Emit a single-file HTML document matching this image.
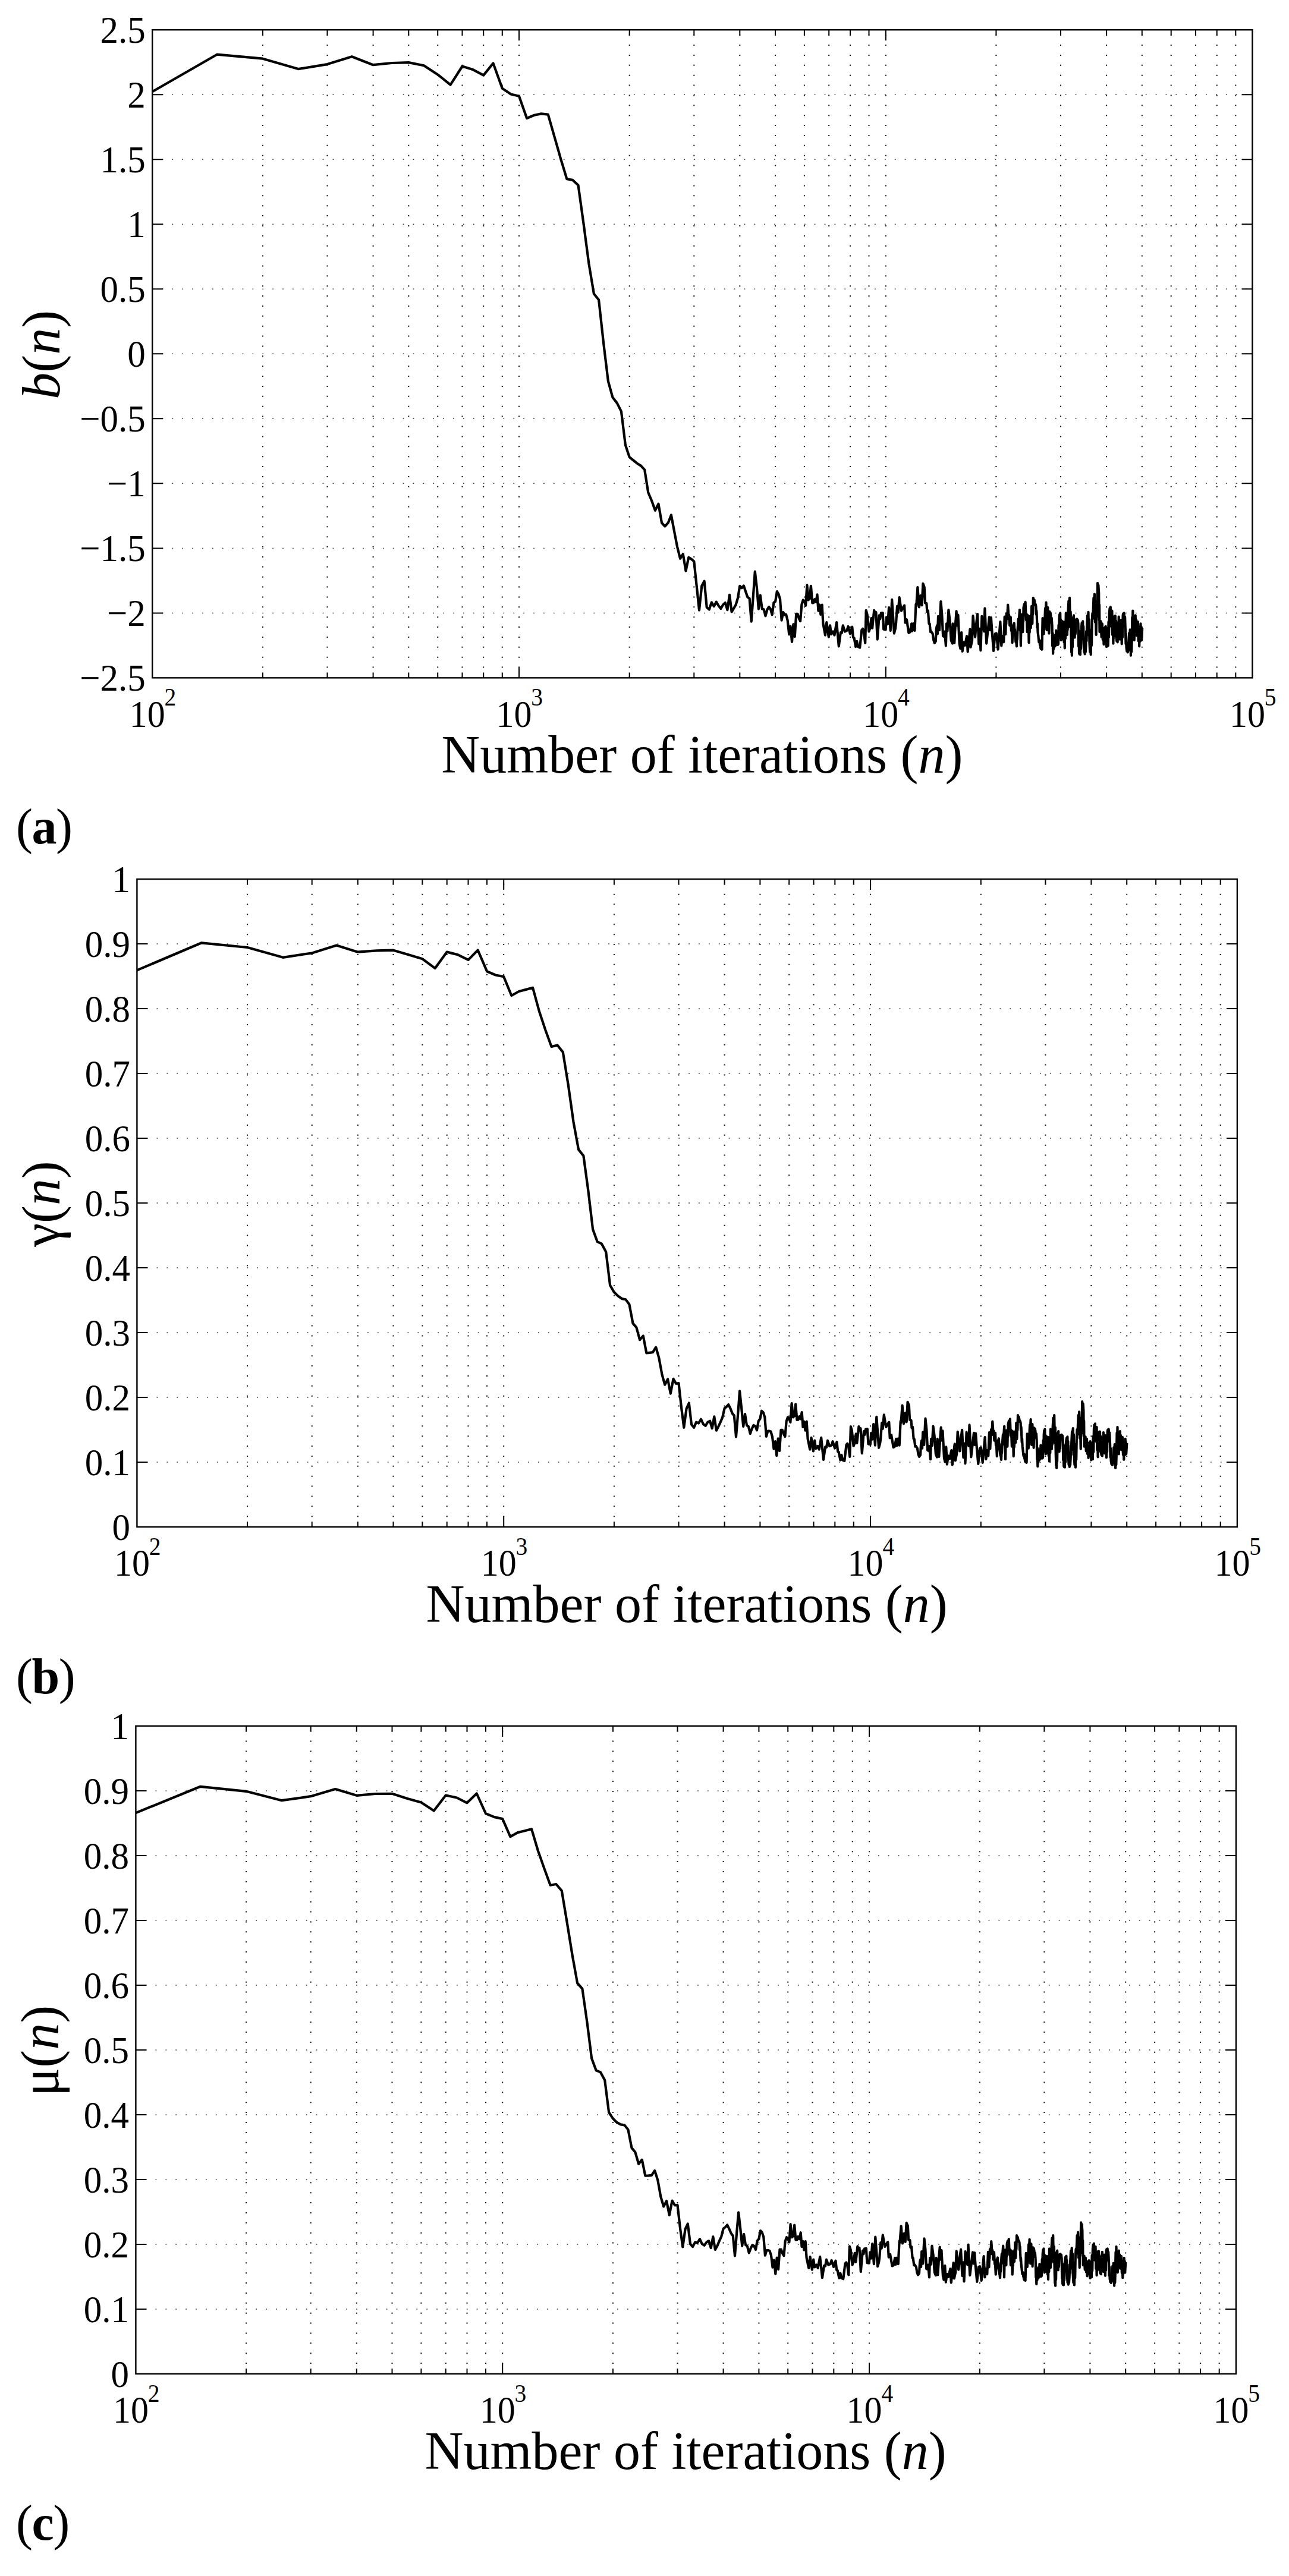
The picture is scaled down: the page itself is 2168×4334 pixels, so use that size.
<!DOCTYPE html>
<html><head><meta charset="utf-8"><title>Figure</title>
<style>html,body{margin:0;padding:0;background:#fff}svg{display:block}text{font-family:'Liberation Serif','Times New Roman',serif;fill:#000}</style></head><body>
<svg width="2168" height="4334" viewBox="0 0 2168 4334">
<rect width="2168" height="4334" fill="#fff"/>
<g>
<path d="M255.7 159.2H2106.5M255.7 268.2H2106.5M255.7 377.3H2106.5M255.7 486.3H2106.5M255.7 595.3H2106.5M255.7 704.3H2106.5M255.7 813.3H2106.5M255.7 922.4H2106.5M255.7 1031.4H2106.5" stroke="#333" stroke-width="1.5" stroke-dasharray="1.7 15.18" fill="none"/>
<path d="M441.9 1140.5V50.2M550.5 1140.5V50.2M627.6 1140.5V50.2M687.3 1140.5V50.2M736.2 1140.5V50.2M777.5 1140.5V50.2M813.2 1140.5V50.2M844.8 1140.5V50.2M873 1140.5V50.2M1058.7 1140.5V50.2M1167.3 1140.5V50.2M1244.3 1140.5V50.2M1304.1 1140.5V50.2M1352.9 1140.5V50.2M1394.2 1140.5V50.2M1430 1140.5V50.2M1461.5 1140.5V50.2M1489.8 1140.5V50.2M1675.4 1140.5V50.2M1784 1140.5V50.2M1861.1 1140.5V50.2M1920.8 1140.5V50.2M1969.7 1140.5V50.2M2011 1140.5V50.2M2046.7 1140.5V50.2M2078.3 1140.5V50.2" stroke="#111" stroke-width="2" stroke-dasharray="2 14.88" fill="none"/>
<path d="M441.9 50.2v9M441.9 1140.4v-9M550.5 50.2v9M550.5 1140.4v-9M627.6 50.2v9M627.6 1140.4v-9M687.3 50.2v9M687.3 1140.4v-9M736.2 50.2v9M736.2 1140.4v-9M777.5 50.2v9M777.5 1140.4v-9M813.2 50.2v9M813.2 1140.4v-9M844.8 50.2v9M844.8 1140.4v-9M873 50.2v18M873 1140.4v-18M1058.7 50.2v9M1058.7 1140.4v-9M1167.3 50.2v9M1167.3 1140.4v-9M1244.3 50.2v9M1244.3 1140.4v-9M1304.1 50.2v9M1304.1 1140.4v-9M1352.9 50.2v9M1352.9 1140.4v-9M1394.2 50.2v9M1394.2 1140.4v-9M1430 50.2v9M1430 1140.4v-9M1461.5 50.2v9M1461.5 1140.4v-9M1489.8 50.2v18M1489.8 1140.4v-18M1675.4 50.2v9M1675.4 1140.4v-9M1784 50.2v9M1784 1140.4v-9M1861.1 50.2v9M1861.1 1140.4v-9M1920.8 50.2v9M1920.8 1140.4v-9M1969.7 50.2v9M1969.7 1140.4v-9M2011 50.2v9M2011 1140.4v-9M2046.7 50.2v9M2046.7 1140.4v-9M2078.3 50.2v9M2078.3 1140.4v-9M256.2 159.2h18M2106.5 159.2h-18M256.2 268.2h18M2106.5 268.2h-18M256.2 377.3h18M2106.5 377.3h-18M256.2 486.3h18M2106.5 486.3h-18M256.2 595.3h18M2106.5 595.3h-18M256.2 704.3h18M2106.5 704.3h-18M256.2 813.3h18M2106.5 813.3h-18M256.2 922.4h18M2106.5 922.4h-18M256.2 1031.4h18M2106.5 1031.4h-18" stroke="#000" stroke-width="2" fill="none"/>
<rect x="256.2" y="50.2" width="1850.2" height="1090.2" fill="none" stroke="#000" stroke-width="2.4"/>
<path d="M256.2 154.2 364.9 91.7 441.9 98.7 501.7 116.1 550.5 108.1 591.8 95.2 627.6 109.2 659.1 106 687.3 105.1 712.9 110.3 736.2 125.4 757.6 142.7 777.5 111.5 795.9 117.3 813.2 126.6 829.5 106.4 844.8 148.7 859.3 158.5 873 161.7 886.1 199 898.5 193.8 910.4 191.4 921.8 192.7 932.8 231 943.3 267.8 953.4 301.1 963.1 302.9 972.5 311.5 981.6 376.9 990.4 443.5 998.9 494.3 1007.1 504.5 1015.1 577.2 1022.9 641.4 1030.4 668.5 1037.8 678.1 1044.9 692.1 1051.9 748.7 1058.7 769.2 1065.3 774.5 1071.7 779.7 1078 783.6 1084.2 790.4 1090.2 828.5 1096.1 842.5 1101.9 858.8 1107.5 847.8 1113 879.7 1118.4 885.5 1123.7 879.7 1128.9 866.5 1134 893.7 1139 919.5 1144 939.8 1148.8 932 1153.5 960.6 1158.2 937.9 1162.8 940.6 1167.3 944.5 1171.7 985.8 1176 1026.6 1180.3 985.8 1184.6 977.7 1188.7 1021.7 1192.8 1025.6 1196.8 1013.4 1200.8 1020.2 1204.7 1012.6 1208.6 1019.2 1212.4 1024 1216.1 1017.5 1219.8 1014 1223.4 1026.2 1227 1000.8 1230.6 1029.5 1234.1 1023.7 1237.5 1017.8 1241 1006.2 1244.3 985.8 1247.6 989.3 1250.9 985.5 1254.2 995.5 1257.4 1004.7 1260.6 1006.8 1263.7 1045.6 1266.8 1003.3 1269.8 961.6 1272.9 988.7 1275.9 1024.6 1278.8 1001.7 1281.8 1024.6 1284.7 1025.2 1287.5 1036.3 1290.4 1025.6 1293.2 1021.1 1295.9 1024.6 1298.7 1034.3 1301.4 1014 1304.1 1012 1306.8 995 1309.4 999.4 1312 1007.8 1314.6 1043.6 1317.2 1030.1 1319.7 1034.3 1322.2 1033.9 1324.7 1044 1327.2 1067.3 1329.6 1053.7 1332 1079.9 1334.4 1050.4 1336.8 1071.2 1339.2 1032.8 1341.5 1032.8 1343.8 1040.5 1346.1 1045 1348.4 1016.9 1350.7 1009.5 1352.9 1012 1355.1 1018.8 1357.4 984.3 1359.5 1009.5 1361.7 1007.2 1363.9 985.8 1366.3 1014.4 1368.3 1014.1 1370.2 1008.2 1372.5 1012.8 1374.5 1000.4 1376.4 1027.6 1378.4 1017.5 1380.3 1033.8 1382.6 1017.5 1384.4 1049.3 1388 1068.7 1390.3 1047 1393.8 1071.8 1396.1 1052.4 1398.1 1067.1 1401.2 1062.5 1403.5 1068.7 1407.1 1047 1410.8 1087.3 1413.9 1064 1415.9 1064.8 1417.8 1052.4 1421.1 1062.5 1424.5 1060.9 1426.5 1053.9 1429.9 1066.3 1433.3 1054.7 1435 1072.6 1436.6 1073.3 1439.2 1088.1 1441.2 1078.8 1443.1 1088.1 1446.2 1089.6 1449.3 1060.1 1451.2 1057.8 1452.7 1061.7 1455.2 1081.9 1456.7 1026.8 1458.6 1033.8 1461.4 1062.5 1463.3 1057 1465.6 1040 1467.1 1057 1470.2 1026.8 1471.8 1032.2 1473.4 1029.9 1475.7 1075.7 1478.8 1035.3 1480.3 1041.5 1481.9 1031.4 1484.7 1031 1486.2 1058.6 1489.6 1059.4 1491.2 1038.4 1493.1 1050.1 1495.1 1022.1 1497.7 1060.9 1500.2 1008.9 1503.9 1065.6 1505.9 1057.8 1507 1049.3 1509 1019.8 1510.6 1030.7 1512.6 1005.1 1516 1027.6 1518.3 1022.9 1521.1 1018.6 1522.5 1047.7 1525 1042.3 1528.4 1064.8 1530.8 1063.2 1533.1 1049.3 1534.3 1061.7 1536.2 1049 1538.5 1060.9 1540.5 1016.7 1541.2 1019.8 1543.4 988 1545.9 1021.4 1548.5 1002 1550.6 1018.3 1552.4 981.8 1554.7 988 1556 1014.4 1558.3 1015.1 1559.4 1029.1 1560.9 1027.6 1562.5 1049.3 1563.6 1049.3 1565.1 1063.2 1566.4 1062.5 1568.7 1066.3 1570.3 1077.2 1571.8 1081.9 1573.8 1078.8 1574.9 1057 1576 1052.4 1576.9 1066.3 1578 1036.9 1580 1060.1 1582.4 1012 1584.2 1032.2 1586.1 1070.2 1587.8 1071 1588.9 1062.5 1590.9 1086.5 1592 1049.3 1593.5 1061.7 1595.4 1026 1597.4 1043.1 1599.7 1077.2 1601.8 1082.6 1602.5 1049.3 1605.2 1081.9 1607 1049.3 1608.6 1028.3 1609.8 1052.4 1611.4 1034.5 1613.7 1083.4 1615.3 1091.2 1617.1 1064 1618.7 1095.8 1620.7 1080.3 1623 1085.7 1626.1 1070.2 1627.7 1096.6 1630 1073.3 1631.5 1058.6 1632.6 1088.8 1635 1077.2 1636.5 1036.1 1640.1 1071.8 1642.1 1049.3 1644 1033 1646.3 1083.4 1647.8 1057.8 1649.4 1094.3 1651.4 1036.9 1655.1 1062.5 1656.4 1023.7 1659.2 1082.6 1661.8 1058.6 1663.8 1038.4 1665.4 1060.1 1666.9 1039.2 1668.8 1066.3 1671.1 1095.1 1673.7 1066.3 1675.8 1065.6 1678.6 1092.7 1680.4 1070.2 1682.4 1046.2 1684.3 1086.5 1685.8 1070.2 1688.2 1080.3 1689.7 1037.6 1691.3 1067.1 1691.8 1049.5 1692.3 1049.8 1692.8 1032.2 1693.3 1036.9 1693.6 1036.8 1694.1 1041.5 1695.2 1017.5 1696.3 1035.4 1697.1 1034.4 1698.3 1052.4 1698.8 1045.1 1699.3 1045.7 1699.8 1038.4 1700.8 1060.9 1701.6 1058.6 1702.6 1081.1 1703.1 1067.4 1703.5 1069.2 1704 1055.5 1704.6 1051.7 1705.1 1052.3 1705.7 1048.5 1706.4 1060.7 1706.9 1058.8 1707.6 1071 1708.4 1080 1709.1 1078.3 1709.9 1087.3 1710.5 1072.6 1710.9 1075.6 1711.5 1060.9 1712.7 1041.4 1713.7 1045.6 1715 1026 1715.7 1060.5 1716.2 1052 1716.9 1086.5 1717.4 1056.2 1717.9 1064.1 1718.4 1033.8 1719.1 1050.9 1719.6 1046.2 1720.3 1063.2 1720.7 1039.2 1721.1 1046.2 1721.5 1022.1 1722.7 1016.7 1723.5 1018.3 1724.6 1012.8 1725.8 1042.9 1726.6 1033.1 1727.7 1063.2 1728.2 1046.3 1728.5 1052.2 1729 1035.3 1729.5 1063.2 1730 1053.2 1730.5 1081.1 1731.2 1054 1731.7 1064 1732.4 1036.9 1733 1048.9 1733.4 1044.3 1733.9 1056.3 1734.4 1033.5 1734.7 1042.5 1735.2 1019.8 1736.3 1049.3 1736.8 1021.9 1737.3 1033.2 1737.8 1005.8 1738.8 1011.7 1739.6 1009.2 1740.6 1015.1 1741.2 1018.1 1741.7 1016.8 1742.4 1019.8 1743 1033.9 1743.4 1027.5 1744 1041.5 1744.5 1055.7 1745 1049.1 1745.5 1063.2 1746.3 1069.5 1747.4 1080.3 1747.8 1078.3 1748.2 1079.3 1748.6 1077.2 1749.1 1085.5 1749.4 1081.4 1749.9 1089.6 1750.8 1091.7 1751.5 1090.7 1752.5 1092.7 1753.6 1040 1754.3 1057.9 1754.9 1048.5 1755.6 1066.3 1756.2 1051.5 1756.6 1059.5 1757.2 1044.6 1758 1023.3 1758.6 1034.9 1759.5 1013.6 1760 1045.9 1760.5 1027.8 1761 1060.1 1761.5 1033.6 1761.8 1048.7 1762.3 1022.1 1763.1 1052.6 1763.7 1035.1 1764.4 1065.6 1765.4 1029.1 1766 1033 1766.6 1030.7 1767.2 1034.5 1768.1 1047.3 1768.7 1039.6 1769.6 1052.4 1770.1 1086.6 1770.6 1065.5 1771.1 1099.7 1771.8 1077.7 1772.4 1091.5 1773.1 1069.5 1773.7 1082.5 1774.1 1074.2 1774.7 1087.3 1775.2 1067.9 1775.7 1080.4 1776.2 1060.9 1776.9 1078.8 1777.4 1067.1 1778.1 1085 1778.8 1083.8 1779.3 1084.6 1780 1083.4 1780.5 1051.9 1781 1073 1781.5 1041.5 1782.1 1033.9 1782.6 1039.1 1783.2 1031.4 1783.7 1066.3 1784.1 1042.4 1784.6 1077.2 1785.1 1052.3 1785.4 1069.6 1785.9 1044.6 1786.5 1068.5 1787 1051.8 1787.7 1075.7 1788.2 1052.9 1788.5 1069 1789 1046.2 1789.6 1080.5 1790.2 1056 1790.8 1090.4 1791.5 1047.9 1792.1 1073.9 1792.8 1031.4 1793.6 1059.9 1794.1 1039.5 1794.9 1067.9 1795.4 1037.6 1795.8 1059.4 1796.4 1029.1 1797.4 1011 1798.1 1024 1799 1005.8 1800 1055.3 1800.7 1029.3 1801.7 1078.8 1802.1 1097.5 1802.5 1084.1 1802.9 1102.8 1803.5 1063 1803.9 1089 1804.5 1049.3 1805 1038.4 1805.5 1046.2 1806 1035.3 1806.6 1064.4 1807 1043.5 1807.6 1072.6 1808.2 1050.8 1808.8 1066.4 1809.4 1044.6 1810.2 1042.2 1810.7 1043.9 1811.5 1041.5 1812.2 1047.6 1812.7 1043.2 1813.5 1049.3 1814 1087.1 1814.5 1061.1 1815 1098.9 1815.7 1100.7 1816.2 1099.4 1816.9 1101.3 1817.6 1066.8 1818.1 1091.5 1818.8 1057 1819.6 1048 1820.3 1054.5 1821.2 1045.4 1821.8 1075.1 1822.2 1053.8 1822.8 1083.4 1823.5 1096.7 1824 1087.2 1824.6 1100.5 1825.3 1088.4 1825.8 1097.1 1826.5 1085 1827.1 1062 1827.5 1078.5 1828.1 1055.5 1829 1035.5 1829.6 1049.9 1830.5 1029.9 1831.2 1068.1 1831.7 1042.1 1832.4 1080.3 1833.2 1096.7 1833.9 1084.9 1834.7 1101.3 1835.5 1059.9 1836 1085.9 1836.7 1044.6 1837.4 1031.9 1837.9 1041 1838.6 1028.3 1839.4 1005.9 1840.1 1022 1840.9 999.6 1841.9 1046.8 1842.6 1020.8 1843.6 1067.9 1844.5 1011.5 1845.2 1037.5 1846.1 981 1846.8 993.7 1847.4 984.6 1848.2 997.3 1848.7 1043.3 1849 1017.3 1849.5 1063.2 1850.2 1049.3 1850.8 1059.3 1851.5 1045.4 1852.6 1071.8 1853 1054.2 1853.4 1066.8 1853.8 1049.3 1854.8 1076.5 1855.5 1057 1856.5 1084.2 1857 1065.4 1857.4 1078.9 1858 1060.1 1858.6 1055.3 1859 1058.8 1859.6 1053.9 1860.1 1080.6 1860.6 1061.4 1861.1 1088.1 1862.2 1057 1862.8 1080 1863.2 1063.5 1863.7 1086.5 1864.5 1046 1865 1072 1865.8 1031.4 1866.5 1023.6 1867.1 1029.2 1867.8 1021.4 1868.3 1046.8 1868.8 1028.5 1869.3 1053.9 1870.4 1027.6 1871.1 1068.1 1871.7 1042.1 1872.4 1082.6 1873 1048.1 1873.4 1072.9 1874 1038.4 1874.7 1036.6 1875.2 1037.9 1875.8 1036.1 1876.5 1065.7 1877 1044.5 1877.7 1074.1 1878.4 1078.9 1879 1075.5 1879.7 1080.3 1880.5 1047 1881 1070.9 1881.7 1037.6 1882.4 1067.3 1882.9 1046 1883.6 1075.7 1884.2 1050.2 1884.6 1068.5 1885.2 1043.1 1885.7 1074.5 1886.2 1052 1886.7 1083.4 1887.4 1046.4 1887.9 1072.4 1888.6 1035.3 1889.3 1032.3 1889.9 1034.5 1890.6 1031.4 1891.4 1053.8 1892.1 1037.8 1892.9 1060.1 1893.5 1083.1 1893.9 1066.6 1894.5 1089.6 1895.3 1095.7 1896 1091.3 1896.8 1097.4 1897.4 1087.7 1897.8 1094.7 1898.3 1085 1899.2 1065 1899.8 1079.3 1900.7 1059.4 1901.1 1093.3 1901.5 1068.9 1901.9 1102.8 1902.6 1081.6 1903.1 1096.8 1903.8 1075.7 1904.3 1038.6 1904.8 1064.6 1905.3 1027.6 1906.2 1065.4 1906.8 1039.4 1907.7 1077.2 1908.4 1044.5 1908.9 1068 1909.7 1035.3 1910.5 1061.9 1911.1 1042.8 1911.8 1069.5 1912.6 1051.3 1913.1 1064.3 1913.9 1046.2 1914.7 1078.3 1915.4 1055.2 1916.2 1087.3 1917 1057.6 1917.7 1078.9 1918.5 1049.3 1919.1 1071.1 1919.5 1055.4 1920.1 1077.2 1921.2 1057" fill="none" stroke="#000" stroke-width="4.2" stroke-linejoin="round" stroke-linecap="butt"/>
<text transform="translate(244.8 72.2) scale(1 1.04)" font-size="61" text-anchor="end">2.5</text>
<text transform="translate(244.8 181.2) scale(1 1.04)" font-size="61" text-anchor="end">2</text>
<text transform="translate(244.8 290.2) scale(1 1.04)" font-size="61" text-anchor="end">1.5</text>
<text transform="translate(244.8 399.3) scale(1 1.04)" font-size="61" text-anchor="end">1</text>
<text transform="translate(244.8 508.3) scale(1 1.04)" font-size="61" text-anchor="end">0.5</text>
<text transform="translate(244.8 617.3) scale(1 1.04)" font-size="61" text-anchor="end">0</text>
<text transform="translate(244.8 726.3) scale(1 1.04)" font-size="61" text-anchor="end">−0.5</text>
<text transform="translate(244.8 835.3) scale(1 1.04)" font-size="61" text-anchor="end">−1</text>
<text transform="translate(244.8 944.4) scale(1 1.04)" font-size="61" text-anchor="end">−1.5</text>
<text transform="translate(244.8 1053.4) scale(1 1.04)" font-size="61" text-anchor="end">−2</text>
<text transform="translate(244.8 1162.4) scale(1 1.04)" font-size="61" text-anchor="end">−2.5</text>
<text transform="translate(217.8 1222.7) scale(1 1.05)" font-size="60">10</text><text transform="translate(276.6 1187) scale(1 1.06)" font-size="39.5">2</text>
<text transform="translate(834.5 1222.7) scale(1 1.05)" font-size="60">10</text><text transform="translate(893.3 1187) scale(1 1.06)" font-size="39.5">3</text>
<text transform="translate(1451.2 1222.7) scale(1 1.05)" font-size="60">10</text><text transform="translate(1510 1187) scale(1 1.06)" font-size="39.5">4</text>
<text transform="translate(2068 1222.7) scale(1 1.05)" font-size="60">10</text><text transform="translate(2126.8 1187) scale(1 1.06)" font-size="39.5">5</text>
<text x="1180.9" y="1300.4" font-size="90" text-anchor="middle">Number of iterations (<tspan font-style="italic">n</tspan>)</text>
<text transform="translate(99.9 596.8) rotate(-90)" font-size="90" text-anchor="middle"><tspan font-style="italic">b</tspan>(<tspan font-style="italic">n</tspan>)</text>
<text x="27" y="1419" font-size="84" font-weight="bold" letter-spacing="-1.5"><tspan font-weight="normal">(</tspan>a<tspan font-weight="normal">)</tspan></text>
</g>
<g>
<path d="M229.8 1588.1H2080.9M229.8 1697.1H2080.9M229.8 1806.1H2080.9M229.8 1915.1H2080.9M229.8 2024H2080.9M229.8 2133H2080.9M229.8 2242H2080.9M229.8 2351H2080.9M229.8 2460H2080.9" stroke="#333" stroke-width="1.5" stroke-dasharray="1.7 15.18" fill="none"/>
<path d="M416.1 2569.1V1479.1M524.7 2569.1V1479.1M601.8 2569.1V1479.1M661.5 2569.1V1479.1M710.4 2569.1V1479.1M751.7 2569.1V1479.1M787.5 2569.1V1479.1M819 2569.1V1479.1M847.2 2569.1V1479.1M1032.9 2569.1V1479.1M1141.5 2569.1V1479.1M1218.6 2569.1V1479.1M1278.4 2569.1V1479.1M1327.2 2569.1V1479.1M1368.5 2569.1V1479.1M1404.3 2569.1V1479.1M1435.8 2569.1V1479.1M1464.1 2569.1V1479.1M1649.8 2569.1V1479.1M1758.4 2569.1V1479.1M1835.4 2569.1V1479.1M1895.2 2569.1V1479.1M1944.1 2569.1V1479.1M1985.4 2569.1V1479.1M2021.1 2569.1V1479.1M2052.7 2569.1V1479.1" stroke="#111" stroke-width="2" stroke-dasharray="2 14.88" fill="none"/>
<path d="M416.1 1479.1v9M416.1 2569v-9M524.7 1479.1v9M524.7 2569v-9M601.8 1479.1v9M601.8 2569v-9M661.5 1479.1v9M661.5 2569v-9M710.4 1479.1v9M710.4 2569v-9M751.7 1479.1v9M751.7 2569v-9M787.5 1479.1v9M787.5 2569v-9M819 1479.1v9M819 2569v-9M847.2 1479.1v18M847.2 2569v-18M1032.9 1479.1v9M1032.9 2569v-9M1141.5 1479.1v9M1141.5 2569v-9M1218.6 1479.1v9M1218.6 2569v-9M1278.4 1479.1v9M1278.4 2569v-9M1327.2 1479.1v9M1327.2 2569v-9M1368.5 1479.1v9M1368.5 2569v-9M1404.3 1479.1v9M1404.3 2569v-9M1435.8 1479.1v9M1435.8 2569v-9M1464.1 1479.1v18M1464.1 2569v-18M1649.8 1479.1v9M1649.8 2569v-9M1758.4 1479.1v9M1758.4 2569v-9M1835.4 1479.1v9M1835.4 2569v-9M1895.2 1479.1v9M1895.2 2569v-9M1944.1 1479.1v9M1944.1 2569v-9M1985.4 1479.1v9M1985.4 2569v-9M2021.1 1479.1v9M2021.1 2569v-9M2052.7 1479.1v9M2052.7 2569v-9M230.4 1588.1h18M2080.9 1588.1h-18M230.4 1697.1h18M2080.9 1697.1h-18M230.4 1806.1h18M2080.9 1806.1h-18M230.4 1915.1h18M2080.9 1915.1h-18M230.4 2024h18M2080.9 2024h-18M230.4 2133h18M2080.9 2133h-18M230.4 2242h18M2080.9 2242h-18M230.4 2351h18M2080.9 2351h-18M230.4 2460h18M2080.9 2460h-18" stroke="#000" stroke-width="2" fill="none"/>
<rect x="230.4" y="1479.1" width="1850.5" height="1089.9" fill="none" stroke="#000" stroke-width="2.4"/>
<path d="M230.4 1632.4 339 1586.3 416.1 1594 475.9 1610.8 524.7 1603.5 566 1590.5 601.8 1601.7 633.3 1599.3 661.5 1598.7 687.1 1606.3 710.4 1613.3 731.8 1629.1 751.7 1601.6 770.2 1606.3 787.5 1614.9 803.7 1598.6 819 1634.2 833.5 1640.5 847.2 1643.1 860.3 1675 872.8 1668 884.7 1664.9 896.1 1661.7 907 1701.7 917.5 1733.4 927.6 1761.1 937.4 1758.4 946.8 1770.1 955.8 1825.7 964.6 1888.1 973.1 1934.1 981.4 1944.6 989.4 2003.5 997.1 2068.2 1004.7 2089.2 1012 2092.7 1019.2 2106.2 1026.1 2162.5 1032.9 2174.1 1039.5 2180.6 1046 2185.1 1052.3 2186.2 1058.4 2194.4 1064.5 2226.5 1070.4 2233.3 1076.1 2254.2 1081.8 2247.5 1087.3 2276.4 1092.7 2275.8 1098 2275.2 1103.2 2266.7 1108.3 2284.5 1113.3 2311.7 1118.2 2329.7 1123.1 2320.4 1127.8 2344.6 1132.5 2319.8 1137 2327.8 1141.5 2327.2 1146 2367.9 1150.3 2401.8 1154.6 2369.8 1158.8 2360.5 1163 2396.6 1167.1 2401.8 1171.1 2392.7 1175.1 2394.5 1179 2387.7 1182.8 2396 1186.6 2398.9 1190.4 2392.7 1194.1 2390.8 1197.7 2403.2 1201.3 2383.4 1204.9 2406.7 1208.4 2399.9 1211.8 2392.7 1215.2 2384.4 1218.6 2369.5 1221.9 2366.9 1225.2 2363.1 1228.5 2369.8 1231.7 2378 1234.8 2381.5 1238 2417.4 1241.1 2380.1 1244.1 2340.4 1247.2 2369.8 1250.2 2399.9 1253.1 2379.2 1256 2398 1258.9 2399.9 1261.8 2412.1 1264.6 2403.8 1267.4 2398 1270.2 2399.3 1273 2406.3 1275.7 2390.8 1278.4 2387.3 1281 2373.7 1283.7 2376.2 1286.3 2384.4 1288.9 2416.8 1291.4 2407.7 1294 2407.7 1296.5 2408.6 1299 2417.4 1301.5 2437.7 1303.9 2425.1 1306.3 2449 1308.7 2420.3 1311.1 2441 1313.5 2405.8 1315.8 2405.8 1318.1 2412.8 1320.4 2417 1322.7 2391.2 1325 2384.4 1327.2 2386.7 1329.4 2392.9 1331.6 2361.2 1333.8 2384.4 1336 2382.3 1338.2 2362.6 1340.4 2388.8 1342.5 2388.6 1344.3 2383.1 1346.6 2387.4 1348.7 2376 1350.5 2401 1352.5 2391.7 1354.4 2406.6 1356.7 2391.7 1358.6 2420.9 1362.2 2438.7 1364.5 2418.8 1367.9 2441.5 1370.2 2423.7 1372.2 2437.3 1375.4 2433 1377.7 2438.7 1381.2 2418.8 1385 2455.8 1388.1 2434.4 1390.1 2435.1 1392 2423.7 1395.2 2433 1398.6 2431.6 1400.6 2425.2 1404.1 2436.6 1407.5 2425.9 1409.2 2442.3 1410.7 2443 1413.4 2456.5 1415.4 2448 1417.2 2456.5 1420.3 2457.9 1423.5 2430.9 1425.3 2428.7 1426.9 2432.3 1429.3 2450.8 1430.9 2400.2 1432.8 2406.6 1435.6 2433 1437.4 2428 1439.7 2412.3 1441.3 2428 1444.4 2400.2 1445.9 2405.2 1447.5 2403.1 1449.8 2445.1 1452.9 2408.1 1454.5 2413.8 1456 2404.5 1458.8 2404.1 1460.4 2429.4 1463.8 2430.2 1465.3 2410.9 1467.2 2421.6 1469.2 2396 1471.9 2431.6 1474.3 2383.9 1478.1 2435.8 1480.1 2428.7 1481.2 2420.9 1483.2 2393.8 1484.7 2403.8 1486.8 2380.3 1490.2 2401 1492.5 2396.7 1495.3 2392.7 1496.7 2419.5 1499.2 2414.5 1502.6 2435.1 1504.9 2433.7 1507.2 2420.9 1508.5 2432.3 1510.3 2420.6 1512.7 2431.6 1514.7 2391 1515.4 2393.8 1517.6 2364.6 1520 2395.3 1522.7 2377.4 1524.7 2392.4 1526.6 2358.9 1528.9 2364.6 1530.1 2388.8 1532.5 2389.6 1533.5 2402.4 1535.1 2401 1536.6 2420.9 1537.7 2420.9 1539.3 2433.7 1540.5 2433 1542.9 2436.6 1544.4 2446.5 1546 2450.8 1548 2448 1549.1 2428 1550.1 2423.7 1551.1 2436.6 1552.2 2409.5 1554.2 2430.9 1556.5 2386.7 1558.4 2405.2 1560.2 2440.1 1561.9 2440.8 1563 2433 1565 2455.1 1566.1 2420.9 1567.7 2432.3 1569.5 2399.5 1571.6 2415.2 1573.9 2446.5 1575.9 2451.5 1576.7 2420.9 1579.3 2450.8 1581.2 2420.9 1582.7 2401.7 1584 2423.7 1585.5 2407.4 1587.9 2452.2 1589.4 2459.3 1591.3 2434.4 1592.8 2463.6 1594.8 2449.4 1597.2 2454.4 1600.3 2440.1 1601.8 2464.3 1604.1 2443 1605.7 2429.4 1606.8 2457.2 1609.1 2446.5 1610.7 2408.8 1614.2 2441.5 1616.2 2420.9 1618.1 2405.9 1620.4 2452.2 1622 2428.7 1623.5 2462.2 1625.6 2409.5 1629.3 2433 1630.5 2397.4 1633.3 2451.5 1635.9 2429.4 1638 2410.9 1639.5 2430.9 1641.1 2411.6 1642.9 2436.6 1645.3 2462.9 1647.9 2436.6 1649.9 2435.8 1652.7 2460.8 1654.6 2440.1 1656.6 2418 1658.4 2455.1 1660 2440.1 1662.3 2449.4 1663.9 2410.2 1665.4 2437.3 1666 2421.1 1666.4 2421.4 1667 2405.2 1667.4 2409.6 1667.8 2409.4 1668.2 2413.8 1669.3 2391.7 1670.4 2408.2 1671.3 2407.3 1672.4 2423.7 1673 2417 1673.4 2417.6 1674 2410.9 1675 2431.6 1675.8 2429.4 1676.8 2450.1 1677.3 2437.5 1677.7 2439.2 1678.2 2426.6 1678.8 2423.1 1679.2 2423.6 1679.9 2420.2 1680.5 2431.4 1681.1 2429.6 1681.7 2440.8 1682.6 2449 1683.2 2447.6 1684 2455.8 1684.6 2442.3 1685 2445 1685.6 2431.6 1686.9 2413.6 1687.9 2417.5 1689.2 2399.5 1689.8 2431.2 1690.4 2423.4 1691 2455.1 1691.6 2427.2 1692 2434.5 1692.6 2406.6 1693.3 2422.3 1693.8 2418 1694.4 2433.7 1694.9 2411.6 1695.2 2418 1695.7 2396 1696.8 2390.9 1697.7 2392.4 1698.8 2387.4 1699.9 2415.1 1700.8 2406.1 1701.9 2433.7 1702.3 2418.2 1702.7 2423.6 1703.1 2408.1 1703.7 2433.7 1704.1 2424.5 1704.7 2450.1 1705.4 2425.2 1705.9 2434.4 1706.5 2409.5 1707.1 2420.5 1707.5 2416.3 1708.1 2427.3 1708.5 2406.4 1708.9 2414.7 1709.3 2393.8 1710.4 2420.9 1711 2395.8 1711.4 2406.1 1712 2381 1713 2386.4 1713.7 2384.1 1714.7 2389.6 1715.4 2392.3 1715.9 2391.1 1716.6 2393.8 1717.1 2406.7 1717.6 2400.9 1718.1 2413.8 1718.7 2426.8 1719.1 2420.7 1719.7 2433.7 1720.4 2439.4 1721.5 2449.4 1722 2447.5 1722.3 2448.4 1722.8 2446.5 1723.2 2454.1 1723.6 2450.4 1724 2457.9 1725 2459.8 1725.7 2458.9 1726.6 2460.8 1727.7 2412.3 1728.5 2428.8 1729 2420.1 1729.8 2436.6 1730.3 2422.9 1730.7 2430.3 1731.3 2416.6 1732.1 2397 1732.8 2407.7 1733.6 2388.1 1734.2 2417.8 1734.6 2401.2 1735.2 2430.9 1735.6 2406.5 1736 2420.4 1736.4 2396 1737.2 2424 1737.8 2407.8 1738.6 2435.8 1739.5 2402.4 1740.2 2405.9 1740.7 2403.8 1741.4 2407.4 1742.2 2419.1 1742.9 2412 1743.7 2423.7 1744.3 2455.1 1744.7 2435.8 1745.3 2467.2 1746 2447 1746.6 2459.6 1747.3 2439.4 1747.8 2451.4 1748.3 2443.8 1748.8 2455.8 1749.4 2437.9 1749.8 2449.4 1750.4 2431.6 1751.1 2447.9 1751.6 2437.3 1752.2 2453.7 1752.9 2452.6 1753.4 2453.3 1754.1 2452.2 1754.7 2423.3 1755.1 2442.7 1755.7 2413.8 1756.3 2406.8 1756.8 2411.5 1757.4 2404.5 1757.9 2436.5 1758.3 2414.6 1758.8 2446.5 1759.2 2423.7 1759.6 2439.5 1760 2416.6 1760.7 2438.5 1761.2 2423.2 1761.9 2445.1 1762.3 2424.2 1762.7 2439 1763.1 2418 1763.8 2449.6 1764.3 2427.1 1765 2458.6 1765.7 2418.6 1766.3 2444.6 1767 2404.5 1767.7 2430.6 1768.3 2411.9 1769 2438 1769.6 2410.2 1770 2430.2 1770.6 2402.4 1771.5 2385.7 1772.2 2397.7 1773.2 2381 1774.1 2427.5 1774.9 2401.5 1775.8 2448 1776.3 2465.2 1776.6 2452.8 1777.1 2470 1777.6 2432.5 1778.1 2458.5 1778.6 2420.9 1779.2 2410.9 1779.6 2418.1 1780.2 2408.1 1780.7 2434.7 1781.2 2415.6 1781.7 2442.3 1782.4 2422.3 1782.9 2436.6 1783.6 2416.6 1784.3 2414.4 1784.9 2416 1785.6 2413.8 1786.3 2419.3 1786.9 2415.3 1787.6 2420.9 1788.2 2456.4 1788.6 2430.9 1789.2 2466.5 1789.8 2468.1 1790.4 2466.9 1791 2468.6 1791.7 2436.9 1792.2 2459.7 1792.9 2428 1793.8 2419.7 1794.5 2425.7 1795.4 2417.3 1795.9 2444.6 1796.4 2425 1796.9 2452.2 1797.6 2464.4 1798.1 2455.7 1798.8 2467.9 1799.5 2456.8 1800 2464.8 1800.7 2453.7 1801.2 2432.5 1801.7 2447.7 1802.2 2426.6 1803.1 2408.3 1803.8 2421.4 1804.7 2403.1 1805.4 2439.2 1805.9 2413.3 1806.6 2449.4 1807.4 2464.4 1808 2453.6 1808.9 2468.6 1809.6 2429.6 1810.2 2455.6 1810.9 2416.6 1811.6 2405 1812.1 2413.3 1812.8 2401.7 1813.6 2381.1 1814.3 2395.9 1815.1 2375.3 1816 2419.6 1816.8 2393.6 1817.7 2438 1818.6 2385.1 1819.3 2411.1 1820.2 2358.2 1821 2369.9 1821.6 2361.5 1822.4 2373.2 1822.8 2416.4 1823.2 2390.4 1823.6 2433.7 1824.3 2420.9 1824.9 2430.1 1825.6 2417.3 1826.7 2441.5 1827.2 2425.4 1827.5 2437 1828 2420.9 1828.9 2445.9 1829.7 2427.9 1830.6 2452.9 1831.2 2435.7 1831.6 2448.1 1832.2 2430.9 1832.7 2426.4 1833.1 2429.6 1833.7 2425.2 1834.3 2449.6 1834.7 2432.1 1835.3 2456.5 1836.3 2428 1836.9 2449.1 1837.3 2434 1837.9 2455.1 1838.6 2416.8 1839.2 2442.8 1839.9 2404.5 1840.6 2397.3 1841.2 2402.5 1841.9 2395.3 1842.5 2418.6 1842.9 2401.8 1843.5 2425.2 1844.6 2401 1845.3 2439.2 1845.9 2413.2 1846.6 2451.5 1847.1 2419.9 1847.6 2442.6 1848.1 2410.9 1848.8 2409.3 1849.3 2410.5 1850 2408.8 1850.7 2436 1851.2 2416.5 1851.9 2443.7 1852.6 2448.1 1853.2 2444.9 1853.9 2449.4 1854.6 2418.8 1855.2 2440.8 1855.9 2410.2 1856.6 2437.4 1857.1 2417.9 1857.8 2445.1 1858.3 2421.8 1858.8 2438.5 1859.3 2415.2 1859.9 2444.1 1860.3 2423.3 1860.9 2452.2 1861.5 2417.8 1862.1 2442.5 1862.7 2408.1 1863.4 2405.3 1864 2407.3 1864.7 2404.5 1865.6 2425.1 1866.2 2410.3 1867.1 2430.9 1867.6 2452 1868.1 2436.8 1868.6 2457.9 1869.5 2463.5 1870.1 2459.5 1870.9 2465 1871.5 2456.2 1871.9 2462.5 1872.5 2453.7 1873.3 2435.3 1874 2448.5 1874.8 2430.2 1875.3 2461.3 1875.6 2438.9 1876.1 2470 1876.7 2450.6 1877.3 2464.5 1877.9 2445.1 1878.5 2410.7 1878.9 2435.4 1879.5 2401 1880.3 2436.5 1881 2411 1881.8 2446.5 1882.5 2416.5 1883.1 2438.1 1883.8 2408.1 1884.6 2432.5 1885.2 2415 1886 2439.4 1886.7 2422.7 1887.3 2434.7 1888 2418 1888.9 2447.5 1889.5 2426.3 1890.3 2455.8 1891.2 2428.6 1891.8 2448.1 1892.7 2420.9 1893.2 2440.9 1893.7 2426.5 1894.2 2446.5 1895.3 2428" fill="none" stroke="#000" stroke-width="4.2" stroke-linejoin="round" stroke-linecap="butt"/>
<text transform="translate(218.9 1501.1) scale(1 1.04)" font-size="61" text-anchor="end">1</text>
<text transform="translate(218.9 1610.1) scale(1 1.04)" font-size="61" text-anchor="end">0.9</text>
<text transform="translate(218.9 1719.1) scale(1 1.04)" font-size="61" text-anchor="end">0.8</text>
<text transform="translate(218.9 1828.1) scale(1 1.04)" font-size="61" text-anchor="end">0.7</text>
<text transform="translate(218.9 1937.1) scale(1 1.04)" font-size="61" text-anchor="end">0.6</text>
<text transform="translate(218.9 2046) scale(1 1.04)" font-size="61" text-anchor="end">0.5</text>
<text transform="translate(218.9 2155) scale(1 1.04)" font-size="61" text-anchor="end">0.4</text>
<text transform="translate(218.9 2264) scale(1 1.04)" font-size="61" text-anchor="end">0.3</text>
<text transform="translate(218.9 2373) scale(1 1.04)" font-size="61" text-anchor="end">0.2</text>
<text transform="translate(218.9 2482) scale(1 1.04)" font-size="61" text-anchor="end">0.1</text>
<text transform="translate(218.9 2591) scale(1 1.04)" font-size="61" text-anchor="end">0</text>
<text transform="translate(191.9 2651.3) scale(1 1.05)" font-size="60">10</text><text transform="translate(250.7 2615.6) scale(1 1.06)" font-size="39.5">2</text>
<text transform="translate(808.7 2651.3) scale(1 1.05)" font-size="60">10</text><text transform="translate(867.5 2615.6) scale(1 1.06)" font-size="39.5">3</text>
<text transform="translate(1425.6 2651.3) scale(1 1.05)" font-size="60">10</text><text transform="translate(1484.4 2615.6) scale(1 1.06)" font-size="39.5">4</text>
<text transform="translate(2042.4 2651.3) scale(1 1.05)" font-size="60">10</text><text transform="translate(2101.2 2615.6) scale(1 1.06)" font-size="39.5">5</text>
<text x="1155.2" y="2729" font-size="90" text-anchor="middle">Number of iterations (<tspan font-style="italic">n</tspan>)</text>
<text transform="translate(100.4 2025.5) rotate(-90)" font-size="90" text-anchor="middle">γ(<tspan font-style="italic">n</tspan>)</text>
<text x="27" y="2849" font-size="84" font-weight="bold" letter-spacing="-1.5"><tspan font-weight="normal">(</tspan>b<tspan font-weight="normal">)</tspan></text>
</g>
<g>
<path d="M227.8 3012.9H2078.9M227.8 3121.9H2078.9M227.8 3230.9H2078.9M227.8 3339.9H2078.9M227.8 3448.9H2078.9M227.8 3557.9H2078.9M227.8 3666.9H2078.9M227.8 3775.9H2078.9M227.8 3884.9H2078.9" stroke="#333" stroke-width="1.5" stroke-dasharray="1.7 15.18" fill="none"/>
<path d="M414.1 3994V2903.9M522.7 3994V2903.9M599.8 3994V2903.9M659.5 3994V2903.9M708.4 3994V2903.9M749.7 3994V2903.9M785.5 3994V2903.9M817 3994V2903.9M845.2 3994V2903.9M1030.9 3994V2903.9M1139.5 3994V2903.9M1216.6 3994V2903.9M1276.4 3994V2903.9M1325.2 3994V2903.9M1366.5 3994V2903.9M1402.3 3994V2903.9M1433.8 3994V2903.9M1462.1 3994V2903.9M1647.8 3994V2903.9M1756.4 3994V2903.9M1833.4 3994V2903.9M1893.2 3994V2903.9M1942.1 3994V2903.9M1983.4 3994V2903.9M2019.1 3994V2903.9M2050.7 3994V2903.9" stroke="#111" stroke-width="2" stroke-dasharray="2 14.88" fill="none"/>
<path d="M414.1 2903.9v9M414.1 3993.9v-9M522.7 2903.9v9M522.7 3993.9v-9M599.8 2903.9v9M599.8 3993.9v-9M659.5 2903.9v9M659.5 3993.9v-9M708.4 2903.9v9M708.4 3993.9v-9M749.7 2903.9v9M749.7 3993.9v-9M785.5 2903.9v9M785.5 3993.9v-9M817 2903.9v9M817 3993.9v-9M845.2 2903.9v18M845.2 3993.9v-18M1030.9 2903.9v9M1030.9 3993.9v-9M1139.5 2903.9v9M1139.5 3993.9v-9M1216.6 2903.9v9M1216.6 3993.9v-9M1276.4 2903.9v9M1276.4 3993.9v-9M1325.2 2903.9v9M1325.2 3993.9v-9M1366.5 2903.9v9M1366.5 3993.9v-9M1402.3 2903.9v9M1402.3 3993.9v-9M1433.8 2903.9v9M1433.8 3993.9v-9M1462.1 2903.9v18M1462.1 3993.9v-18M1647.8 2903.9v9M1647.8 3993.9v-9M1756.4 2903.9v9M1756.4 3993.9v-9M1833.4 2903.9v9M1833.4 3993.9v-9M1893.2 2903.9v9M1893.2 3993.9v-9M1942.1 2903.9v9M1942.1 3993.9v-9M1983.4 2903.9v9M1983.4 3993.9v-9M2019.1 2903.9v9M2019.1 3993.9v-9M2050.7 2903.9v9M2050.7 3993.9v-9M228.4 3012.9h18M2078.9 3012.9h-18M228.4 3121.9h18M2078.9 3121.9h-18M228.4 3230.9h18M2078.9 3230.9h-18M228.4 3339.9h18M2078.9 3339.9h-18M228.4 3448.9h18M2078.9 3448.9h-18M228.4 3557.9h18M2078.9 3557.9h-18M228.4 3666.9h18M2078.9 3666.9h-18M228.4 3775.9h18M2078.9 3775.9h-18M228.4 3884.9h18M2078.9 3884.9h-18" stroke="#000" stroke-width="2" fill="none"/>
<rect x="228.4" y="2903.9" width="1850.5" height="1090" fill="none" stroke="#000" stroke-width="2.4"/>
<path d="M228.4 3050.1 337 3005.8 414.1 3013.8 473.9 3029.2 522.7 3022.2 564 3010 599.8 3020.8 631.3 3018 659.5 3017.8 685.1 3026.1 708.4 3032.6 729.8 3046.6 749.7 3020.5 768.2 3024.5 785.5 3033.3 801.7 3017.5 817 3051.2 831.5 3057.1 845.2 3060.1 858.3 3090.1 870.8 3083.1 882.7 3080.3 894.1 3077.3 905 3114.1 915.5 3143.9 925.6 3171.7 935.4 3170 944.8 3181.2 953.8 3235.2 962.6 3289.4 971.1 3336.5 979.4 3346 987.4 3402 995.1 3463.1 1002.7 3483.4 1010 3486.4 1017.2 3499.7 1024.1 3553.9 1030.9 3564.3 1037.5 3570.9 1044 3574.4 1050.3 3575.3 1056.4 3583 1062.5 3613.9 1068.4 3620.9 1074.1 3640.7 1079.8 3633.7 1085.3 3660.7 1090.7 3660.4 1096 3659.9 1101.2 3651.9 1106.3 3667.8 1111.3 3695.8 1116.2 3712.3 1121.1 3703 1125.8 3726.8 1130.5 3702.6 1135 3710.3 1139.5 3709.9 1144 3749.1 1148.3 3780.5 1152.6 3750.1 1156.8 3741.4 1161 3775.3 1165.1 3780.1 1169.1 3772.4 1173.1 3773.4 1177 3767.1 1180.8 3775.3 1184.6 3777.8 1188.4 3772.4 1192.1 3770.1 1195.7 3782.1 1199.3 3763.1 1202.9 3785 1206.4 3778.6 1209.8 3770.4 1213.2 3763.1 1216.6 3749.7 1219.9 3747.2 1223.2 3743.3 1226.5 3750.1 1229.7 3757.5 1232.8 3761.7 1236 3795.3 1239.1 3756.9 1242.1 3722.3 1245.2 3749.1 1248.2 3778.6 1251.1 3758.8 1254 3776.8 1256.9 3779.2 1259.8 3790.4 1262.6 3782.7 1265.4 3777.2 1268.2 3778.6 1271 3785 1273.7 3769.9 1276.4 3767 1279 3753 1281.7 3755.9 1284.3 3763.7 1286.9 3794.7 1289.4 3786 1292 3786 1294.5 3786.9 1297 3794.7 1299.5 3814.7 1301.9 3802.5 1304.3 3825.7 1306.7 3798.5 1309.1 3818.1 1311.5 3784.5 1313.8 3784.5 1316.1 3791.3 1318.4 3795.2 1320.7 3770.6 1323 3764.2 1325.2 3766.3 1327.4 3772.3 1329.6 3742.1 1331.8 3764.2 1334 3762.2 1336.2 3743.5 1338.4 3768.4 1340.5 3768.2 1342.3 3763 1344.6 3767.1 1346.7 3756.2 1348.5 3779.9 1350.5 3771.1 1352.4 3785.4 1354.7 3771.1 1356.6 3798.9 1360.2 3815.9 1362.5 3796.9 1365.9 3818.6 1368.2 3801.6 1370.2 3814.5 1373.4 3810.5 1375.7 3815.9 1379.2 3796.9 1383 3832.2 1386.1 3811.8 1388.1 3812.5 1390 3801.6 1393.2 3810.5 1396.6 3809.1 1398.6 3803 1402.1 3813.9 1405.5 3803.7 1407.2 3819.3 1408.7 3820 1411.4 3832.8 1413.4 3824.7 1415.2 3832.8 1418.3 3834.2 1421.5 3808.4 1423.3 3806.4 1424.9 3809.8 1427.3 3827.4 1428.9 3779.3 1430.8 3785.4 1433.6 3810.5 1435.4 3805.7 1437.7 3790.8 1439.3 3805.7 1442.4 3779.3 1443.9 3784 1445.5 3782 1447.8 3822 1450.9 3786.7 1452.5 3792.2 1454 3783.3 1456.8 3782.9 1458.4 3807.1 1461.8 3807.7 1463.3 3789.4 1465.2 3799.6 1467.2 3775.2 1469.9 3809.1 1472.3 3763.7 1476.1 3813.2 1478.1 3806.4 1479.2 3798.9 1481.2 3773.2 1482.7 3782.7 1484.8 3760.3 1488.2 3779.9 1490.5 3775.9 1493.3 3772.1 1494.7 3797.6 1497.2 3792.8 1500.6 3812.5 1502.9 3811.1 1505.2 3798.9 1506.5 3809.8 1508.3 3798.7 1510.7 3809.1 1512.7 3770.5 1513.4 3773.2 1515.6 3745.4 1518 3774.5 1520.7 3757.6 1522.7 3771.8 1524.6 3739.9 1526.9 3745.4 1528.1 3768.4 1530.5 3769.1 1531.5 3781.3 1533.1 3779.9 1534.6 3798.9 1535.7 3798.9 1537.3 3811.1 1538.5 3810.5 1540.9 3813.9 1542.4 3823.3 1544 3827.4 1546 3824.7 1547.1 3805.7 1548.1 3801.6 1549.1 3813.9 1550.2 3788.1 1552.2 3808.4 1554.5 3766.4 1556.4 3784 1558.2 3817.2 1559.9 3817.9 1561 3810.5 1563 3831.5 1564.1 3798.9 1565.7 3809.8 1567.5 3778.6 1569.6 3793.5 1571.9 3823.3 1573.9 3828.1 1574.7 3798.9 1577.3 3827.4 1579.2 3798.9 1580.7 3780.6 1582 3801.6 1583.5 3786.1 1585.9 3828.8 1587.4 3835.5 1589.3 3811.8 1590.8 3839.6 1592.8 3826.1 1595.2 3830.8 1598.3 3817.2 1599.8 3840.3 1602.1 3820 1603.7 3807.1 1604.8 3833.5 1607.1 3823.3 1608.7 3787.4 1612.2 3818.6 1614.2 3798.9 1616.1 3784.7 1618.4 3828.8 1620 3806.4 1621.5 3838.3 1623.6 3788.1 1627.3 3810.5 1628.5 3776.6 1631.3 3828.1 1633.9 3807.1 1636 3789.4 1637.5 3808.4 1639.1 3790.1 1640.9 3813.9 1643.3 3838.9 1645.9 3813.9 1647.9 3813.2 1650.7 3836.9 1652.6 3817.2 1654.6 3796.2 1656.4 3831.5 1658 3817.2 1660.3 3826.1 1661.9 3788.8 1663.4 3814.5 1664 3799.2 1664.4 3799.4 1665 3784 1665.4 3788.1 1665.8 3788 1666.2 3792.2 1667.3 3771.1 1668.4 3786.8 1669.3 3785.9 1670.4 3801.6 1671 3795.3 1671.4 3795.8 1672 3789.4 1673 3809.1 1673.8 3807.1 1674.8 3826.7 1675.3 3814.8 1675.7 3816.3 1676.2 3804.4 1676.8 3801.1 1677.2 3801.5 1677.9 3798.3 1678.5 3809 1679.1 3807.2 1679.7 3817.9 1680.6 3825.7 1681.2 3824.3 1682 3832.2 1682.6 3819.3 1683 3821.9 1683.6 3809.1 1684.9 3792 1685.9 3795.7 1687.2 3778.6 1687.8 3808.7 1688.4 3801.3 1689 3831.5 1689.6 3805 1690 3811.9 1690.6 3785.4 1691.3 3800.3 1691.8 3796.2 1692.4 3811.1 1692.9 3790.1 1693.2 3796.2 1693.7 3775.2 1694.8 3770.4 1695.7 3771.9 1696.8 3767.1 1697.9 3793.4 1698.8 3784.8 1699.9 3811.1 1700.3 3796.4 1700.7 3801.5 1701.1 3786.7 1701.7 3811.1 1702.1 3802.4 1702.7 3826.7 1703.4 3803 1703.9 3811.8 1704.5 3788.1 1705.1 3798.6 1705.5 3794.5 1706.1 3805 1706.5 3785.2 1706.9 3793 1707.3 3773.2 1708.4 3798.9 1709 3775 1709.4 3784.9 1710 3761 1711 3766.1 1711.7 3763.9 1712.7 3769.1 1713.4 3771.7 1713.9 3770.6 1714.6 3773.2 1715.1 3785.4 1715.6 3779.9 1716.1 3792.2 1716.7 3804.5 1717.1 3798.8 1717.7 3811.1 1718.4 3816.6 1719.5 3826.1 1720 3824.3 1720.3 3825.1 1720.8 3823.3 1721.2 3830.5 1721.6 3827 1722 3834.2 1723 3836 1723.7 3835.1 1724.6 3836.9 1725.7 3790.8 1726.5 3806.4 1727 3798.2 1727.8 3813.9 1728.3 3800.9 1728.7 3807.8 1729.3 3794.9 1730.1 3776.2 1730.8 3786.4 1731.6 3767.7 1732.2 3796 1732.6 3780.2 1733.2 3808.4 1733.6 3785.2 1734 3798.4 1734.4 3775.2 1735.2 3801.9 1735.8 3786.5 1736.6 3813.2 1737.5 3781.3 1738.2 3784.7 1738.7 3782.7 1739.4 3786.1 1740.2 3797.2 1740.9 3790.5 1741.7 3801.6 1742.3 3831.5 1742.7 3813.1 1743.3 3843 1744 3823.8 1744.6 3835.8 1745.3 3816.6 1745.8 3828 1746.3 3820.7 1746.8 3832.2 1747.4 3815.2 1747.8 3826.1 1748.4 3809.1 1749.1 3824.7 1749.6 3814.5 1750.2 3830.1 1750.9 3829.1 1751.4 3829.8 1752.1 3828.8 1752.7 3801.2 1753.1 3819.7 1753.7 3792.2 1754.3 3785.5 1754.8 3790 1755.4 3783.3 1755.9 3813.8 1756.3 3792.9 1756.8 3823.3 1757.2 3801.6 1757.6 3816.6 1758 3794.9 1758.7 3815.7 1759.2 3801.1 1759.9 3822 1760.3 3802.1 1760.7 3816.2 1761.1 3796.2 1761.8 3826.3 1762.3 3804.8 1763 3834.9 1763.7 3796.1 1764.3 3822.1 1765 3783.3 1765.7 3808.2 1766.3 3790.4 1767 3815.2 1767.6 3788.8 1768 3807.7 1768.6 3781.3 1769.5 3765.4 1770.2 3776.8 1771.2 3761 1772.1 3805.8 1772.9 3779.8 1773.8 3824.7 1774.3 3841.1 1774.6 3829.3 1775.1 3845.7 1775.6 3809.3 1776.1 3835.3 1776.6 3798.9 1777.2 3789.4 1777.6 3796.2 1778.2 3786.7 1778.7 3812.1 1779.2 3793.9 1779.7 3819.3 1780.4 3800.2 1780.9 3813.9 1781.6 3794.9 1782.3 3792.8 1782.9 3794.3 1783.6 3792.2 1784.3 3797.4 1784.9 3793.6 1785.6 3798.9 1786.2 3832.8 1786.6 3808.5 1787.2 3842.3 1787.8 3843.9 1788.4 3842.8 1789 3844.4 1789.7 3814.2 1790.2 3835.9 1790.9 3805.7 1791.8 3797.8 1792.5 3803.5 1793.4 3795.5 1793.9 3821.5 1794.4 3802.9 1794.9 3828.8 1795.6 3840.4 1796.1 3832 1796.8 3843.7 1797.5 3833.1 1798 3840.7 1798.7 3830.1 1799.2 3810 1799.7 3824.5 1800.2 3804.4 1801.1 3786.9 1801.8 3799.4 1802.7 3782 1803.4 3816.4 1803.9 3791.7 1804.6 3826.1 1805.4 3840.3 1806 3830.1 1806.9 3844.4 1807.6 3806.6 1808.2 3832.6 1808.9 3794.9 1809.6 3783.8 1810.1 3791.7 1810.8 3780.6 1811.6 3761.1 1812.3 3775.1 1813.1 3755.5 1814 3798.4 1814.8 3772.4 1815.7 3815.2 1816.6 3764.2 1817.3 3790.2 1818.2 3739.3 1819 3750.4 1819.6 3742.4 1820.4 3753.5 1820.8 3795.3 1821.2 3769.3 1821.6 3811.1 1822.3 3799 1822.9 3807.7 1823.6 3795.5 1824.7 3818.6 1825.2 3803.3 1825.5 3814.3 1826 3798.9 1826.9 3822.7 1827.7 3805.6 1828.6 3829.4 1829.2 3813.1 1829.6 3824.8 1830.2 3808.4 1830.7 3804.2 1831.1 3807.2 1831.7 3803 1832.3 3826.3 1832.7 3809.6 1833.3 3832.8 1834.3 3805.7 1834.9 3825.8 1835.3 3811.4 1835.9 3831.5 1836.6 3794.4 1837.2 3820.4 1837.9 3783.3 1838.6 3776.5 1839.2 3781.4 1839.9 3774.5 1840.5 3796.7 1840.9 3780.8 1841.5 3803 1842.6 3779.9 1843.3 3817 1843.9 3791 1844.6 3828.1 1845.1 3797.9 1845.6 3819.6 1846.1 3789.4 1846.8 3787.9 1847.3 3789 1848 3787.4 1848.7 3813.3 1849.2 3794.7 1849.9 3820.6 1850.6 3824.9 1851.2 3821.8 1851.9 3826.1 1852.6 3797 1853.2 3817.9 1853.9 3788.8 1854.6 3814.7 1855.1 3796.1 1855.8 3822 1856.3 3799.8 1856.8 3815.7 1857.3 3793.5 1857.9 3821 1858.3 3801.3 1858.9 3828.8 1859.5 3796 1860.1 3819.5 1860.7 3786.7 1861.4 3784.1 1862 3786 1862.7 3783.3 1863.6 3802.9 1864.2 3788.9 1865.1 3808.4 1865.6 3828.5 1866.1 3814.1 1866.6 3834.2 1867.5 3839.5 1868.1 3835.7 1868.9 3841 1869.5 3832.5 1869.9 3838.6 1870.5 3830.1 1871.3 3812.7 1872 3825.2 1872.8 3807.7 1873.3 3837.4 1873.6 3816.1 1874.1 3845.7 1874.7 3827.2 1875.3 3840.5 1875.9 3822 1876.5 3789.2 1876.9 3812.7 1877.5 3779.9 1878.3 3813.8 1879 3789.5 1879.8 3823.3 1880.5 3794.8 1881.1 3815.3 1881.8 3786.7 1882.6 3810 1883.2 3793.3 1884 3816.6 1884.7 3800.7 1885.3 3812.1 1886 3796.2 1886.9 3824.3 1887.5 3804.1 1888.3 3832.2 1889.2 3806.2 1889.8 3824.8 1890.7 3798.9 1891.2 3818 1891.7 3804.3 1892.2 3823.3 1893.3 3805.7" fill="none" stroke="#000" stroke-width="4.2" stroke-linejoin="round" stroke-linecap="butt"/>
<text transform="translate(216.9 2925.9) scale(1 1.04)" font-size="61" text-anchor="end">1</text>
<text transform="translate(216.9 3034.9) scale(1 1.04)" font-size="61" text-anchor="end">0.9</text>
<text transform="translate(216.9 3143.9) scale(1 1.04)" font-size="61" text-anchor="end">0.8</text>
<text transform="translate(216.9 3252.9) scale(1 1.04)" font-size="61" text-anchor="end">0.7</text>
<text transform="translate(216.9 3361.9) scale(1 1.04)" font-size="61" text-anchor="end">0.6</text>
<text transform="translate(216.9 3470.9) scale(1 1.04)" font-size="61" text-anchor="end">0.5</text>
<text transform="translate(216.9 3579.9) scale(1 1.04)" font-size="61" text-anchor="end">0.4</text>
<text transform="translate(216.9 3688.9) scale(1 1.04)" font-size="61" text-anchor="end">0.3</text>
<text transform="translate(216.9 3797.9) scale(1 1.04)" font-size="61" text-anchor="end">0.2</text>
<text transform="translate(216.9 3906.9) scale(1 1.04)" font-size="61" text-anchor="end">0.1</text>
<text transform="translate(216.9 4015.9) scale(1 1.04)" font-size="61" text-anchor="end">0</text>
<text transform="translate(189.9 4076.2) scale(1 1.05)" font-size="60">10</text><text transform="translate(248.7 4040.5) scale(1 1.06)" font-size="39.5">2</text>
<text transform="translate(806.7 4076.2) scale(1 1.05)" font-size="60">10</text><text transform="translate(865.5 4040.5) scale(1 1.06)" font-size="39.5">3</text>
<text transform="translate(1423.6 4076.2) scale(1 1.05)" font-size="60">10</text><text transform="translate(1482.4 4040.5) scale(1 1.06)" font-size="39.5">4</text>
<text transform="translate(2040.4 4076.2) scale(1 1.05)" font-size="60">10</text><text transform="translate(2099.2 4040.5) scale(1 1.06)" font-size="39.5">5</text>
<text x="1153.2" y="4153.9" font-size="90" text-anchor="middle">Number of iterations (<tspan font-style="italic">n</tspan>)</text>
<text transform="translate(98.4 3450.4) rotate(-90)" font-size="90" text-anchor="middle">μ(<tspan font-style="italic">n</tspan>)</text>
<text x="27" y="4273" font-size="84" font-weight="bold" letter-spacing="-1.5"><tspan font-weight="normal">(</tspan>c<tspan font-weight="normal">)</tspan></text>
</g>
</svg>
</body></html>
